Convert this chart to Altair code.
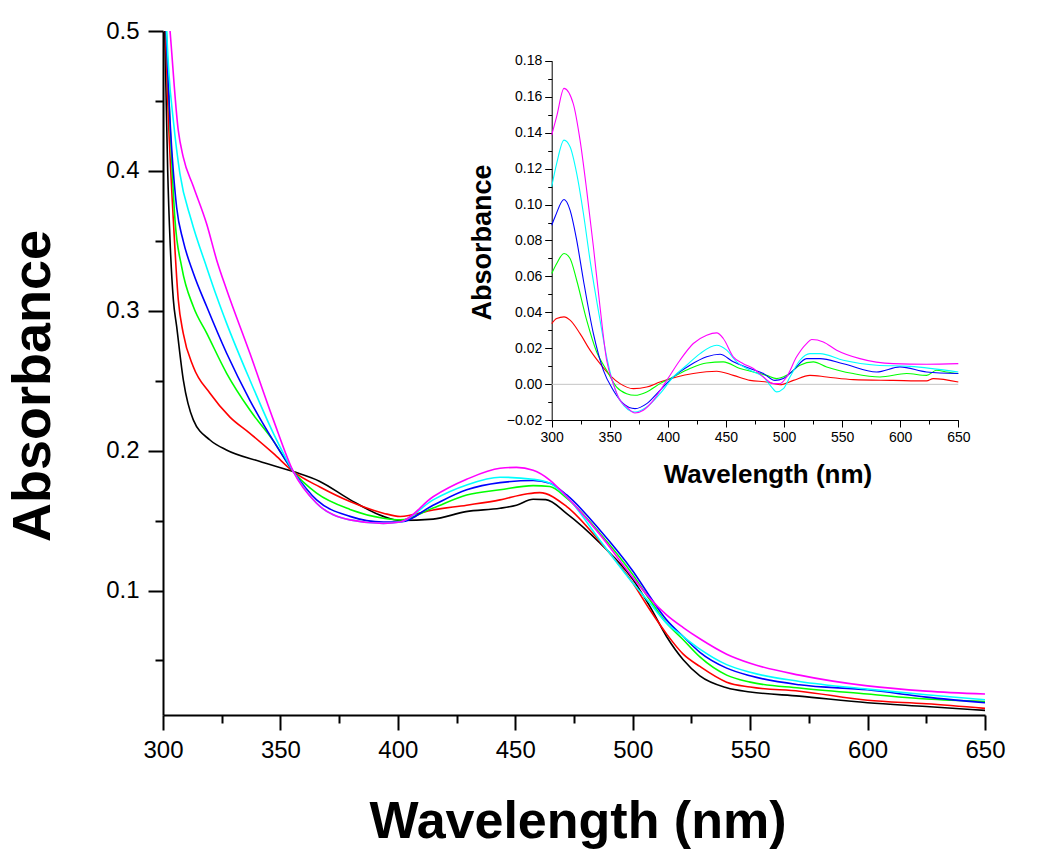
import altair as alt
import pandas as pd

SERIES = ["black", "red", "green", "blue", "cyan", "magenta"]
COLORS = ["#000000", "#ff0000", "#00ff00", "#0000ff", "#00ffff", "#ff00ff"]

# ---------------- main spectra ----------------
black_wl = [300, 301, 302, 303, 304.4, 305.8, 308.7, 312.9, 320, 327, 341, 355.5, 366.8, 379.6, 393.8, 401, 415, 429,
            443.5, 450.5, 457.6, 463, 471.9, 486, 500.2, 507.3, 514.4, 521.5, 528.6, 540, 550, 571, 600, 625, 650]
black_abs = [0.56, 0.48, 0.40, 0.35, 0.308, 0.289, 0.25, 0.222, 0.2076, 0.2005, 0.1924, 0.185, 0.178, 0.165, 0.153,
             0.150, 0.151, 0.1564, 0.1588, 0.161, 0.1652, 0.165, 0.155, 0.134, 0.1076, 0.0886, 0.0671, 0.0505, 0.039,
             0.0305, 0.0275, 0.0245, 0.0198, 0.0171, 0.0143]

red_wl = [300, 302, 304.4, 306.5, 308.6, 312.9, 320, 328.5, 337, 347, 355.5, 366.8, 379.6, 393.8, 401, 415, 429.3,
          443.5, 454.6, 460.4, 471.9, 486, 500.2, 507.3, 514.4, 521.5, 528.6, 540, 550, 571, 600, 625, 650]
red_abs = [0.56, 0.45, 0.365, 0.308, 0.284, 0.26, 0.241, 0.224, 0.2124, 0.198, 0.185, 0.174, 0.1636, 0.1553, 0.1529,
           0.1576, 0.161, 0.1648, 0.169, 0.170, 0.160, 0.135, 0.105, 0.0862, 0.069, 0.0545, 0.0457, 0.0345, 0.031,
           0.028, 0.0215, 0.019, 0.0157]

green_wl = [300, 302.8, 305.1, 308, 312.9, 318.6, 327.1, 337, 347, 355.5, 365.4, 379.6, 393.8, 401, 415, 429.3, 443.5,
            457.6, 464.7, 471.9, 486, 500.2, 507.3, 514.4, 521.5, 528.6, 540, 550, 571, 600, 625, 650]
green_abs = [0.56, 0.44, 0.365, 0.331, 0.303, 0.284, 0.2553, 0.229, 0.207, 0.185, 0.1696, 0.158, 0.1517, 0.1505, 0.159,
             0.1683, 0.172, 0.175, 0.1743, 0.166, 0.141, 0.111, 0.0933, 0.0767, 0.0648, 0.0525, 0.0395, 0.0345, 0.0303,
             0.026, 0.0224, 0.0207]

blue_wl = [300, 303, 305.8, 308.6, 312.9, 318.6, 327.1, 337, 347, 355.5, 365.4, 379.6, 393.8, 401, 415, 429.3, 443.5,
           457.6, 464.7, 471.9, 486, 500.2, 507.3, 514.4, 521.5, 528.6, 540, 550, 571, 600, 625, 650]
blue_abs = [0.56, 0.436, 0.374, 0.35, 0.327, 0.303, 0.2696, 0.236, 0.207, 0.185, 0.1648, 0.153, 0.149, 0.149, 0.161,
            0.172, 0.1771, 0.1786, 0.1767, 0.1683, 0.1433, 0.1136, 0.0957, 0.079, 0.0671, 0.0558, 0.0445, 0.039, 0.0326,
            0.029, 0.0238, 0.0198]

cyan_wl = [300, 302.5, 304.4, 307.2, 312, 318.6, 322.9, 327.1, 337, 347, 355.5, 365.4, 379.6, 393.8, 401, 415, 429.3,
           443.5, 457.6, 464.7, 471.9, 486, 500.2, 507.3, 514.4, 521.5, 528.6, 540, 550, 571, 600, 625, 650]
cyan_abs = [0.56, 0.47, 0.436, 0.398, 0.365, 0.331, 0.31, 0.291, 0.2505, 0.2124, 0.185, 0.1624, 0.1505, 0.148, 0.149,
            0.1648, 0.1755, 0.181, 0.1795, 0.1767, 0.167, 0.136, 0.105, 0.091, 0.0767, 0.0671, 0.0581, 0.047, 0.0415,
            0.035, 0.0295, 0.0255, 0.0219]

magenta_wl = [300, 303, 306.5, 308.6, 312.9, 318.6, 322.9, 327.1, 337, 347, 355.5, 365.4, 379.6, 393.8, 401, 415, 429.3,
              443.5, 450.5, 457.6, 464.7, 471.9, 486, 500.2, 507.3, 514.4, 521.5, 528.6, 540, 550, 571, 600, 625, 650]
magenta_abs = [0.56, 0.50, 0.429, 0.41, 0.389, 0.362, 0.336, 0.315, 0.2696, 0.222, 0.185, 0.1624, 0.1505, 0.148, 0.149,
               0.167, 0.1795, 0.1874, 0.188, 0.186, 0.179, 0.167, 0.14, 0.109, 0.0945, 0.0826, 0.0735, 0.0655, 0.0545,
               0.048, 0.0395, 0.0318, 0.0281, 0.026]

# ---------------- inset (difference spectra) ----------------
red_in_wl = [300, 304.3, 310.6, 315.8, 324.4, 333, 341.6, 350.2, 358.8, 370.3, 381.8, 393.2, 407.6, 421.9, 442, 456.3,
             470.7, 485, 496.5, 508, 522.3, 536.7, 559.6, 594, 622.7, 628.4, 650]
red_in_abs = [0.0338, 0.0366, 0.0375, 0.0357, 0.0282, 0.019, 0.0115, 0.005, 0.0004, -0.0024, -0.0015, 0.0013, 0.0041,
              0.006, 0.0073, 0.005, 0.0022, 0.0013, -0.0002, 0.0022, 0.005, 0.0041, 0.0026, 0.0022, 0.0019, 0.0032,
              0.0013]

green_in_wl = [300, 304.3, 310.6, 315.8, 321.5, 330.1, 338.7, 347.3, 355.9, 364.5, 371.7, 381.8, 393.2, 404.7, 419,
               433.4, 447.7, 462.1, 473.6, 485, 493.6, 502.2, 513.7, 525.2, 536.7, 559.6, 582.6, 605.5, 622.7, 631.3,
               639.9, 650]
green_in_abs = [0.0616, 0.0672, 0.0728, 0.07, 0.0579, 0.0357, 0.018, 0.0078, -0.0015, -0.0052, -0.0061, -0.0042,
                0.0004, 0.0041, 0.0088, 0.0119, 0.0125, 0.0088, 0.0069, 0.005, 0.0032, 0.005, 0.0106, 0.0125, 0.0097,
                0.006, 0.0041, 0.006, 0.005, 0.0078, 0.0069, 0.006]

blue_in_wl = [300, 302.9, 310.6, 315.8, 321.5, 327.3, 335.9, 344.5, 353, 361.7, 371.7, 381.8, 393.2, 404.7, 419, 433.4,
              444.9, 456.3, 470.7, 482.2, 492.2, 499.4, 508, 519.4, 530.9, 551, 579.7, 599.8, 622.7, 650]
blue_in_abs = [0.0885, 0.0932, 0.1028, 0.0969, 0.0802, 0.0579, 0.0282, 0.0078, -0.0033, -0.0107, -0.0135, -0.0107,
               -0.0033, 0.0041, 0.0106, 0.0153, 0.0167, 0.0125, 0.0088, 0.006, 0.0022, 0.0032, 0.0078, 0.0143, 0.0143,
               0.0115, 0.0069, 0.0097, 0.0069, 0.006]

cyan_in_wl = [300, 304.3, 310.6, 315.8, 321.5, 327.3, 333, 341.6, 347.3, 353, 358.8, 371.7, 381.8, 393.2, 404.7, 416.2,
              427.7, 442, 450.6, 459.2, 470.7, 482.2, 489.3, 493.6, 499.4, 505.1, 513.7, 522.3, 530.9, 551, 579.7,
              608.4, 650]
cyan_in_abs = [0.1099, 0.1229, 0.1358, 0.1321, 0.1173, 0.095, 0.0691, 0.0357, 0.0153, 0.0004, -0.0089, -0.0154,
               -0.0126, -0.0052, 0.0041, 0.0106, 0.0171, 0.0217, 0.019, 0.0125, 0.0078, 0.0041, -0.0015, -0.0042,
               -0.0024, 0.0041, 0.0134, 0.0171, 0.0171, 0.0134, 0.0106, 0.01, 0.0069]

magenta_in_wl = [300, 304.3, 310.6, 318.6, 324.4, 330.1, 335.9, 341.6, 347.3, 353, 358.8, 364.5, 371.7, 378.9, 387.5,
                 399, 410.4, 421.9, 433.4, 442, 447.7, 456.3, 464.9, 473.6, 482.2, 490.8, 496.5, 502.2, 510.8, 519.4,
                 523.8, 533.8, 545.3, 565.3, 594, 622.7, 650]
magenta_in_abs = [0.1386, 0.149, 0.1646, 0.156, 0.1358, 0.108, 0.0765, 0.043, 0.0134, 0.0004, -0.0089, -0.0126,
                  -0.0159, -0.0144, -0.0089, 0.0022, 0.0134, 0.0227, 0.0273, 0.0286, 0.0255, 0.0153, 0.0115, 0.0088,
                  0.0041, 0.0004, 0.0004, 0.0041, 0.0153, 0.0227, 0.0249, 0.0236, 0.019, 0.0143, 0.0115, 0.0112,
                  0.0115]

# ---------------- ticks ----------------
x_major = [300, 350, 400, 450, 500, 550, 600, 650]
x_minor = [325, 375, 425, 475, 525, 575, 625]
main_y_major = [0.1, 0.2, 0.3, 0.4, 0.5]
main_y_minor = [0.05, 0.15, 0.25, 0.35, 0.45]
inset_y_major = [-0.02, 0.0, 0.02, 0.04, 0.06, 0.08, 0.10, 0.12, 0.14, 0.16, 0.18]
inset_y_minor = [-0.01, 0.01, 0.03, 0.05, 0.07, 0.09, 0.11, 0.13, 0.15, 0.17]


def frame(name, wl, ab):
    return pd.DataFrame({"series": name, "wl": wl, "abs": ab})


main_df = pd.concat([
    frame("black", black_wl, black_abs), frame("red", red_wl, red_abs), frame("green", green_wl, green_abs),
    frame("blue", blue_wl, blue_abs), frame("cyan", cyan_wl, cyan_abs), frame("magenta", magenta_wl, magenta_abs),
], ignore_index=True)
inset_df = pd.concat([
    frame("red", red_in_wl, red_in_abs), frame("green", green_in_wl, green_in_abs),
    frame("blue", blue_in_wl, blue_in_abs), frame("cyan", cyan_in_wl, cyan_in_abs),
    frame("magenta", magenta_in_wl, magenta_in_abs),
], ignore_index=True)
zero_df = pd.DataFrame({"wl": [300], "wl2": [650], "abs": [0.0]})
dummy_df = pd.DataFrame({"wl": [400], "abs": [0.3]})

W, H = 822, 684
FONT = "Liberation Sans"
INSET_XR = [388.7, 795.3]
INSET_YR = [389.3, 29.7]

color = alt.Color("series:N", scale=alt.Scale(domain=SERIES, range=COLORS), legend=None)


def main_x_scale():
    return alt.Scale(domain=[300, 650], nice=False, zero=False)


def main_y_scale():
    return alt.Scale(domain=[0.011, 0.5], nice=False, zero=False)


def inset_x_scale():
    return alt.Scale(domain=[300, 650], range=INSET_XR, nice=False, zero=False)


def inset_y_scale():
    return alt.Scale(domain=[-0.02, 0.18], range=INSET_YR, nice=False, zero=False)


common_lbl = dict(labelFont=FONT, labelColor="black", labelFlush=False, labelOverlap=False, grid=False,
                  tickColor="black", domainColor="black")

main = alt.Chart(main_df).mark_line(clip=True, strokeWidth=1.6, interpolate="monotone").encode(
    x=alt.X("wl:Q", scale=main_x_scale(), axis=alt.Axis(
        values=x_major, format="d", orient="bottom", tickSize=15, tickWidth=2, domainWidth=2,
        labelFontSize=24, labelPadding=8, title="Wavelength (nm)", titleFont=FONT, titleFontSize=52,
        titleFontWeight="bold", titleColor="black", titleX=414.5, titleY=122, titleAlign="center",
        titleBaseline="alphabetic", **common_lbl)),
    y=alt.Y("abs:Q", scale=main_y_scale(), axis=alt.Axis(
        values=main_y_major, format=".1f", orient="left", tickSize=15, tickWidth=2, domainWidth=2,
        labelFontSize=24, labelPadding=9, title="Absorbance", titleFont=FONT, titleFontSize=54,
        titleFontWeight="bold", titleColor="black", titleX=-114, titleY=354.5, titleAngle=270,
        titleAlign="center", titleBaseline="alphabetic", **common_lbl)),
    color=color,
)

main_minor = alt.Chart(dummy_df).mark_point(opacity=0).encode(
    x=alt.X("wl:Q", scale=main_x_scale(), axis=alt.Axis(
        values=x_minor, orient="bottom", labels=False, domain=False, tickSize=8, tickWidth=2,
        tickColor="black", grid=False, title=None)),
    y=alt.Y("abs:Q", scale=main_y_scale(), axis=alt.Axis(
        values=main_y_minor, orient="left", labels=False, domain=False, tickSize=8, tickWidth=2,
        tickColor="black", grid=False, title=None)),
)

inset_zero = alt.Chart(zero_df).mark_rule(color="#c4c4c4", strokeWidth=1).encode(
    x=alt.X("wl:Q", scale=inset_x_scale(), axis=alt.Axis(
        values=x_minor, orient="bottom", offset=-295, labels=False, domain=False, tickSize=4,
        tickWidth=1, tickColor="black", grid=False, title=None)),
    x2="wl2:Q",
    y=alt.Y("abs:Q", scale=inset_y_scale(), axis=alt.Axis(
        values=inset_y_minor, orient="left", offset=-388.7, labels=False, domain=False, tickSize=4,
        tickWidth=1, tickColor="black", grid=False, title=None)),
)

inset = alt.Chart(inset_df).mark_line(strokeWidth=1.1, interpolate="monotone").encode(
    x=alt.X("wl:Q", scale=inset_x_scale(), axis=alt.Axis(
        values=x_major, format="d", orient="bottom", offset=-295, tickSize=7, tickWidth=1, domainWidth=1,
        labelFontSize=14, labelPadding=3, title="Wavelength (nm)", titleFont=FONT, titleFontSize=26,
        titleFontWeight="bold", titleColor="black", titleX=604.5, titleY=62, titleAlign="center",
        titleBaseline="alphabetic", **common_lbl)),
    y=alt.Y("abs:Q", scale=inset_y_scale(), axis=alt.Axis(
        values=inset_y_major, format=".2f", orient="left", offset=-388.7, tickSize=7, tickWidth=1,
        domainWidth=1, labelFontSize=14, labelPadding=3, title="Absorbance", titleFont=FONT,
        titleFontSize=27, titleFontWeight="bold", titleColor="black", titleX=-61, titleY=211,
        titleAngle=270, titleAlign="center", titleBaseline="alphabetic", **common_lbl)),
    color=color,
)

chart = alt.layer(main_minor, main, inset_zero, inset).resolve_scale(
    x="independent", y="independent"
).properties(
    width=W, height=H,
    autosize=alt.AutoSizeParams(type="none"),
    padding={"left": 155, "top": 23, "right": 40, "bottom": 145},
    background="white",
).configure_view(strokeWidth=0)

chart.save("out.html", embed_options={"renderer": "svg", "actions": False})
